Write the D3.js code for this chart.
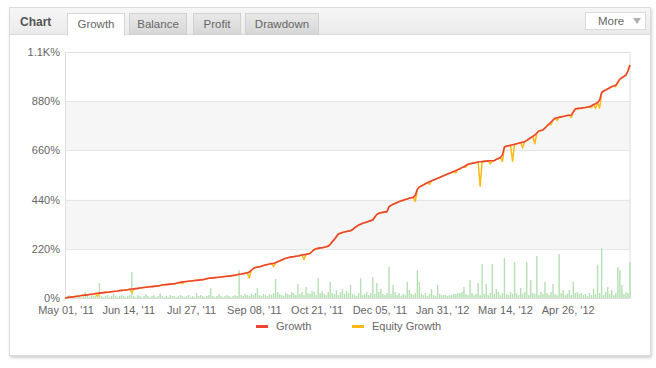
<!DOCTYPE html>
<html><head><meta charset="utf-8">
<script src="https://cdn.jsdelivr.net/npm/d3@7"></script>
<style>body{margin:0;background:#fff;} svg{display:block;font-family:"Liberation Sans",Arial,sans-serif;}</style>
</head><body><svg id="c" width="656" height="368"></svg>
<script>
const tabLabels = ["Growth","Balance","Profit","Drawdown"];
const yTicks = [0,220,440,660,880,1100];
const yTickLabels = ["0%","220%","440%","660%","880%","1.1K%"];
const xTickIndex = [0,31,62,93,124,155,186,217,248];
const xTickLabels = ["May 01, '11","Jun 14, '11","Jul 27, '11","Sep 08, '11","Oct 21, '11","Dec 05, '11","Jan 31, '12","Mar 14, '12","Apr 26, '12"];
const seriesNames = ["Growth","Equity Growth"];

const growth = [
0,1,3,4,5,7,8,9,11,12,
13,14,16,17,18,20,21,22,23,24,
25,26,27,28,29,30,31,33,34,35,
36,37,39,40,41,42,43,45,46,47,
48,49,50,51,52,53,54,56,58,59,
60,61,62,63,64,66,68,70,72,73,
74,75,76,77,78,79,80,81,82,84,
86,88,89,90,91,92,93,94,95,96,
97,98,99,101,102,104,106,107,109,111,
113,116,124,132,136,138,140,142,145,148,
150,152,154,155,158,162,166,170,174,178,
180,182,184,185,187,188,190,192,194,195,
197,199,208,216,220,222,224,225,227,229,
232,240,252,262,274,286,290,293,295,297,
299,301,306,314,320,326,330,334,337,340,
343,346,349,362,374,379,381,383,385,386,
408,414,419,423,427,431,434,437,440,443,
446,448,450,460,486,496,501,506,511,516,
520,524,528,531,535,539,543,547,551,555,
558,562,566,570,574,578,583,587,593,598,
600,602,604,606,608,609,610,611,612,613,
614,614,614,620,624,628,640,675,679,681,
683,685,687,690,692,694,697,699,705,711,
717,723,729,738,747,749,751,760,769,778,
787,796,804,806,808,810,812,814,816,817,
818,832,845,847,848,849,851,852,854,855,
860,865,869,874,885,918,926,930,935,940,
945,948,952,965,979,985,991,997,1015,1042];

// equity growth: same as growth except these [index, value] readings
const equityDips = [[16,8],[33,25],[58,64],[91,89],[103,140],[118,172],[173,432],[180,508],[193,560],[198,585],[205,500],[210,600],[216,611],[221,612],[226,672],[232,690],[240,775],[243,795],[250,808],[260,852],[262,848],[264,850],[272,945]];

const bars = [
4,9,13,9,4,9,13,9,4,9,
27,9,4,13,9,9,13,67,9,4,
9,13,4,9,18,9,4,9,13,9,
4,9,13,116,9,4,13,9,4,9,
18,9,4,9,13,4,9,22,9,4,
9,4,13,9,9,4,9,13,9,4,
9,13,4,9,4,22,9,13,9,4,
9,13,45,9,4,9,18,9,4,9,
13,9,4,9,13,9,125,13,9,18,
13,9,18,13,22,45,13,9,18,13,
9,18,13,22,85,27,18,13,9,22,
18,13,27,22,13,63,18,27,13,49,
22,18,31,27,13,89,22,31,18,13,
27,72,22,18,36,13,27,40,18,31,
22,58,18,13,9,22,89,13,18,27,
13,22,94,18,67,27,40,18,13,22,
139,18,58,27,13,22,9,18,13,72,
36,18,13,22,125,72,18,13,22,9,
18,40,13,9,58,18,13,13,13,9,
13,13,18,18,22,22,27,49,18,13,
80,22,13,18,67,13,152,18,63,13,
22,152,18,40,27,13,22,179,18,13,
27,18,161,22,13,45,18,27,161,13,
80,22,18,188,13,27,18,72,22,13,
27,63,18,13,197,22,36,13,18,36,
13,72,22,27,18,22,13,18,9,22,
13,40,18,148,22,224,13,27,49,18,
36,13,22,139,125,58,18,27,22,161];

const equity = growth.slice();
equityDips.forEach(([i,v]) => { equity[i] = v; });

const colors = {growth:"#ec4430", equity:"#fdb914", bar:"#b4e0b2"};

const svg = d3.select("#c");
const defs = svg.append("defs");
const sh = defs.append("filter").attr("id","sh").attr("x","-5%").attr("y","-5%").attr("width","110%").attr("height","115%");
sh.append("feDropShadow").attr("dx",1).attr("dy",2).attr("stdDeviation",1.5).attr("flood-color","#000").attr("flood-opacity",0.18);
const hg = defs.append("linearGradient").attr("id","hg").attr("x1",0).attr("y1",0).attr("x2",0).attr("y2",1);
hg.append("stop").attr("offset","0%").attr("stop-color","#f6f6f6");
hg.append("stop").attr("offset","100%").attr("stop-color","#ebebeb");
const tg = defs.append("linearGradient").attr("id","tg").attr("x1",0).attr("y1",0).attr("x2",0).attr("y2",1);
tg.append("stop").attr("offset","0%").attr("stop-color","#e9e9e9");
tg.append("stop").attr("offset","100%").attr("stop-color","#d6d6d6");

// panel
svg.append("rect").attr("x",9.5).attr("y",7.5).attr("width",641).attr("height",348).attr("fill","#fff").attr("stroke","#dcdcdc").attr("filter","url(#sh)");
svg.append("rect").attr("x",10).attr("y",8).attr("width",640).attr("height",26).attr("fill","url(#hg)");
svg.append("line").attr("x1",10).attr("x2",650).attr("y1",34.5).attr("y2",34.5).attr("stroke","#dcdcdc");
svg.append("text").attr("x",20).attr("y",26).attr("font-size",12).attr("font-weight","bold").attr("fill","#555").text("Chart");

const tabPos = [[67,57],[129,57],[193,47],[245,73]];
tabLabels.forEach((t,k) => {
  const [tx,tw] = tabPos[k];
  const g = svg.append("g");
  if (k===0) {
    g.append("rect").attr("x",tx+0.5).attr("y",13.5).attr("width",tw).attr("height",22).attr("fill","#fff").attr("stroke","#d6d6d6");
    g.append("rect").attr("x",tx+1).attr("y",33).attr("width",tw-1).attr("height",3).attr("fill","#fff");
  } else {
    g.append("rect").attr("x",tx+0.5).attr("y",13.5).attr("width",tw).attr("height",21).attr("fill","url(#tg)").attr("stroke","#d0d0d0");
  }
  g.append("text").attr("x",tx+tw/2+0.5).attr("y",28).attr("text-anchor","middle").attr("font-size",11.5).attr("fill","#666").text(t);
});
// More button
svg.append("rect").attr("x",585.5).attr("y",12.5).attr("width",60).attr("height",17).attr("fill","#fff").attr("stroke","#dadada");
svg.append("text").attr("x",598).attr("y",25).attr("font-size",11.5).attr("fill","#666").text("More");
svg.append("path").attr("d","M633,18 L641,18 L637,24 Z").attr("fill","#b0b0b0");

// chart
const x = d3.scaleLinear().domain([0, growth.length-1]).range([65, 630]);
const y = d3.scaleLinear().domain([0, 1100]).range([298, 52]);

// bands
[[220,440],[660,880]].forEach(([a,b]) => {
  svg.append("rect").attr("x",65).attr("width",565).attr("y",y(b)).attr("height",y(a)-y(b)).attr("fill","#f6f6f6");
});
// grid
svg.append("g").selectAll("line").data(yTicks).join("line")
  .attr("x1",65).attr("x2",630).attr("y1",d=>Math.round(y(d))+0.5).attr("y2",d=>Math.round(y(d))+0.5)
  .attr("stroke","#e6e6e6");
svg.append("rect").attr("x",65.5).attr("y",52.5).attr("width",564.5).attr("height",246).attr("fill","none").attr("stroke","#dedede");

// y labels
svg.append("g").selectAll("text").data(yTicks).join("text")
  .attr("x",60).attr("y",d=>y(d)+4).attr("text-anchor","end").attr("font-size",11).attr("fill","#666")
  .text((d,i)=>yTickLabels[i]);
// x labels
svg.append("g").selectAll("text").data(xTickIndex).join("text")
  .attr("x",d=>x(d)+1).attr("y",314).attr("text-anchor","middle").attr("font-size",11).attr("fill","#666")
  .text((d,i)=>xTickLabels[i]);

// bars
svg.append("g").selectAll("rect").data(bars).join("rect")
  .attr("x",(d,i)=>x(i)-0.7).attr("width",1.4)
  .attr("y",d=>y(d)).attr("height",d=>y(0)-y(d)).attr("fill",colors.bar);

const line = d3.line().x((d,i)=>x(i)).y(d=>y(d));
svg.append("path").attr("d",line(equity)).attr("fill","none").attr("stroke",colors.equity).attr("stroke-width",1.5).attr("stroke-linejoin","round");
svg.append("path").attr("d",line(growth)).attr("fill","none").attr("stroke",colors.growth).attr("stroke-width",1.6).attr("stroke-linejoin","round");

// legend
const leg = [[256,colors.growth],[352,colors.equity]];
seriesNames.forEach((n,k) => {
  const [lx,c] = leg[k];
  svg.append("rect").attr("x",lx).attr("y",325).attr("width",12).attr("height",3).attr("fill",c);
  svg.append("text").attr("x",lx+20).attr("y",330).attr("font-size",11).attr("fill","#666").text(n);
});
</script></body></html>
